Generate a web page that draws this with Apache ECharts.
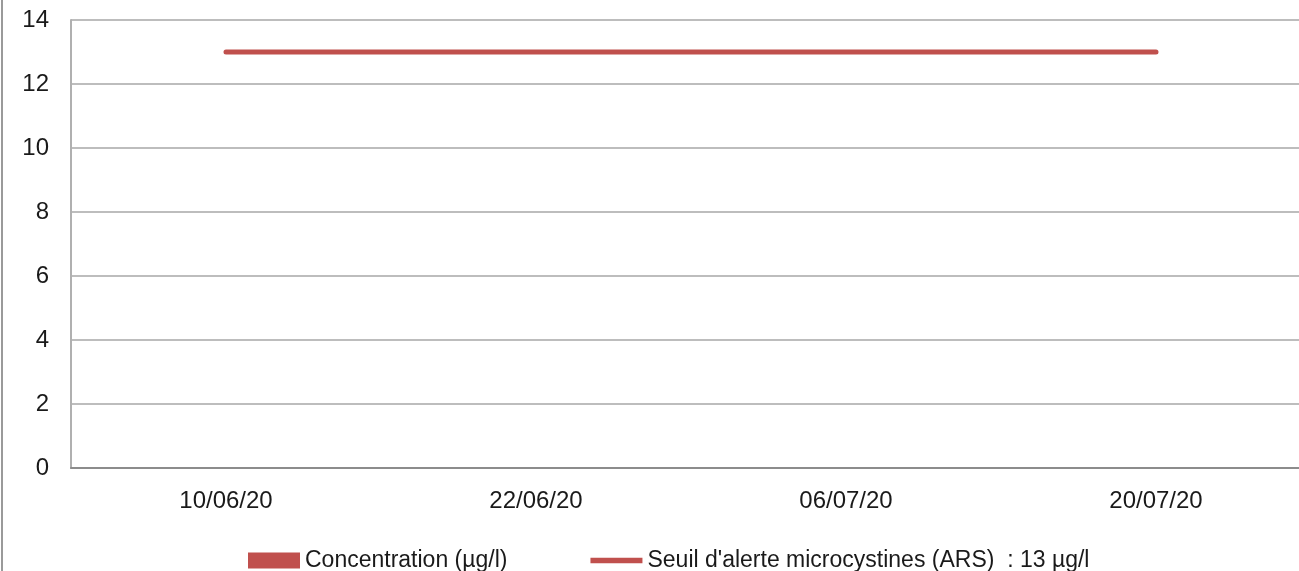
<!DOCTYPE html>
<html><head><meta charset="utf-8">
<style>html,body{margin:0;padding:0;background:#fff}#c{width:1299px;height:571px}</style>
<script src="https://cdn.jsdelivr.net/npm/echarts@6/dist/echarts.min.js"></script>
</head><body><div id="c"></div>
<script>
const categories = ['10/06/20', '22/06/20', '06/07/20', '20/07/20'];
const concentration = [0, 0, 0, 0];
const seuil = [13, 13, 13, 13];
const yTicks = [0, 2, 4, 6, 8, 10, 12, 14];

const chart = echarts.init(document.getElementById('c'));
const font = 'Liberation Sans';
chart.setOption({
  animation: false,
  backgroundColor: '#fff',
  graphic: [{type: 'rect', shape: {x: 2, y: -5, width: 1400, height: 600}, style: {fill: 'none', stroke: '#9a9a9a', lineWidth: 2}, silent: true}],
  grid: {left: 71, top: 20, width: 1240, height: 448, outerBoundsMode: 'none', containLabel: false},
  legend: {
    left: 248, top: 549, padding: 0, itemWidth: 52, itemHeight: 16, itemGap: 83,
    symbolKeepAspect: true,
    textStyle: {fontFamily: font, fontSize: 23, color: '#1a1a1a'},
    data: [
      {name: 'Concentration (µg/l)', icon: 'rect'},
      {name: "Seuil d'alerte microcystines (ARS)  : 13 µg/l", icon: 'path://M0,0 L46,0 L46,5 L0,5 Z'}
    ]
  },
  xAxis: {
    type: 'category', data: categories,
    axisLine: {lineStyle: {color: '#8c8c8c', width: 2}},
    axisTick: {show: false},
    axisLabel: {fontFamily: font, fontSize: 24, color: '#1a1a1a', margin: 21}
  },
  yAxis: {
    type: 'value', min: 0, max: 14, interval: 2,
    axisLine: {show: true, lineStyle: {color: '#b0b0b0', width: 2}},
    axisTick: {show: false},
    axisLabel: {fontFamily: font, fontSize: 24, color: '#1a1a1a', margin: 22,
      formatter: v => yTicks.includes(v) ? String(v) : ''},
    splitLine: {lineStyle: {color: '#bdbdbd', width: 2}}
  },
  series: [
    {name: 'Concentration (µg/l)', type: 'bar', data: concentration, itemStyle: {color: '#C0504D'}},
    {name: "Seuil d'alerte microcystines (ARS)  : 13 µg/l", type: 'line', data: seuil, symbol: 'none',
      lineStyle: {color: '#C0504D', width: 5, cap: 'round'}, itemStyle: {color: '#C0504D'}}
  ]
});
</script></body></html>
